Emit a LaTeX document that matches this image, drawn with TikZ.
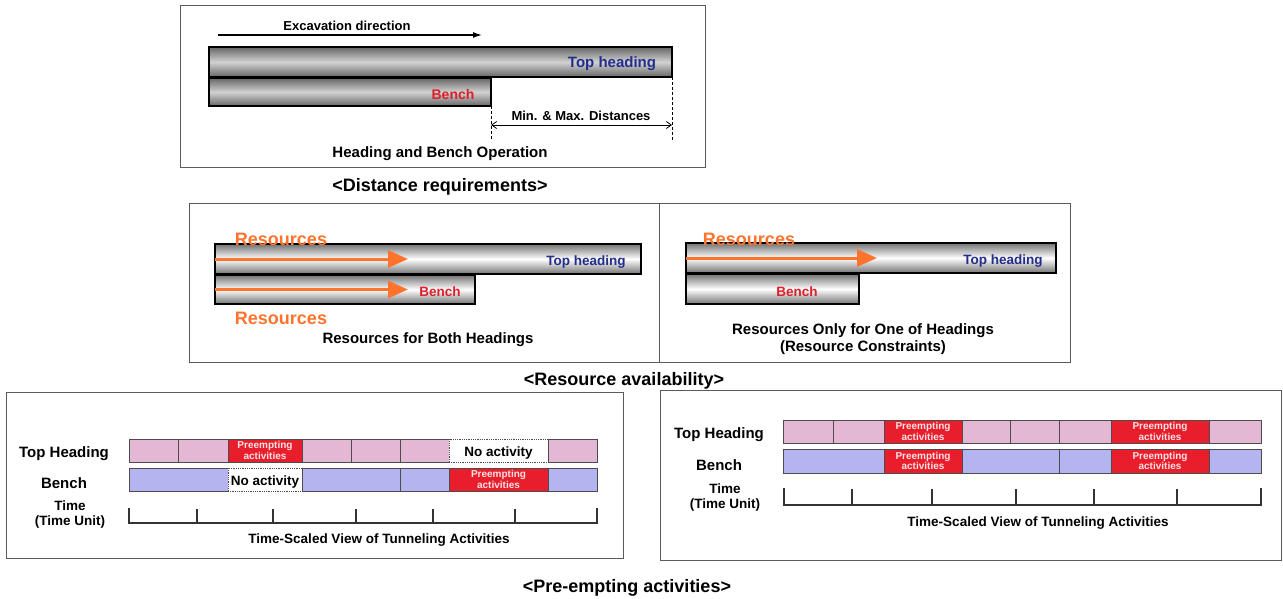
\documentclass[tikz,border=0pt]{standalone}
\usepackage{fontspec}
\setmainfont{Liberation Sans}
\usetikzlibrary{arrows.meta}
\definecolor{pinkc}{RGB}{228,184,212}
\definecolor{bluec}{RGB}{180,180,240}
\definecolor{redc}{RGB}{232,30,45}
\definecolor{redtxt}{RGB}{222,30,40}
\definecolor{bluetxt}{RGB}{35,45,140}
\definecolor{orangec}{RGB}{255,115,45}
\definecolor{pretxt}{RGB}{255,228,228}
\definecolor{framec}{RGB}{90,90,90}
\begin{document}
\begin{tikzpicture}[x=1pt,y=-1pt,
  f10/.style={font=\bfseries\fontsize{10pt}{10.8pt}\selectfont},
  f13/.style={font=\bfseries\fontsize{13pt}{15pt}\selectfont, yshift=-2pt},
  f135/.style={font=\bfseries\fontsize{13.5pt}{15pt}\selectfont, yshift=-2pt},
  f14/.style={font=\bfseries\fontsize{14pt}{16pt}\selectfont, yshift=-2pt},
  f15/.style={font=\bfseries\fontsize{15pt}{17pt}\selectfont, yshift=-2pt},
  f18/.style={font=\bfseries\fontsize{18pt}{20pt}\selectfont, yshift=-2pt},
  frame/.style={draw=framec, line width=1pt},
  tubeA/.style={draw=black, line width=1.3pt, anchor=north west, inner sep=0pt, outer sep=0pt,
     top color=black!60, bottom color=black!60, middle color=black!18},
  tubeB/.style={draw=black, line width=1.3pt, anchor=north west, inner sep=0pt, outer sep=0pt,
     top color=black!55, bottom color=black!55, middle color=white},
  resarrow/.style={draw=orangec, line width=3pt, -{Triangle[length=20pt,width=17pt]}},
  cell/.style={draw=black!70, line width=0.8pt, anchor=north west, inner sep=0pt, outer sep=0pt, text=pretxt, align=center, f10},
  noact/.style={draw=black!70, line width=0.8pt, densely dotted, fill=white, anchor=north west, inner sep=0pt, outer sep=0pt,
     font=\bfseries\fontsize{13.5pt}{15pt}\selectfont, text height=12pt, text depth=1pt},
  axis/.style={draw=black!80, line width=1.2pt}
]
\useasboundingbox (0,0) rectangle (1283,598);

% ---------- Box 1: distance requirements ----------
\node[frame, anchor=north west, minimum width=525pt, minimum height=162pt, inner sep=0pt] (box1) at (180,5) {};
\node[f13] (exc) at (347,24) {Excavation direction};
\coordinate (excA) at (218,35);
\coordinate (excB) at (482,35);
\draw[line width=1.3pt, -{Latex[length=9pt,width=6pt]}] (excA) -- (excB);
\node[tubeA, minimum width=463pt, minimum height=30pt] (th1) at (209,47) {};
\node[tubeA, minimum width=282pt, minimum height=28pt] (bn1) at (209,78) {};
\node[f15, text=bluetxt] (th1t) at (612,62) {Top heading};
\node[f14, text=redtxt] (bn1t) at (453,92) {Bench};
\coordinate (d1) at (491,140);
\coordinate (d2) at (672,140);
\draw[densely dashed, line width=0.8pt] (bn1.south east) -- (d1);
\draw[densely dashed, line width=0.8pt] (th1.south east) -- (d2);
\coordinate (m1) at (491,125);
\coordinate (m2) at (672,125);
\draw[line width=0.8pt, {Straight Barb[length=5pt,width=7pt]}-{Straight Barb[length=5pt,width=7pt]}] (m1) -- (m2);
\node[f13] (mm) at (581,114) {Min. \& Max. Distances};
\node[f15] (hbo) at (440,152) {Heading and Bench Operation};
\node[f18] (cap1) at (440,185) {<Distance requirements>};

% ---------- Box 2: resource availability ----------
\node[frame, anchor=north west, minimum width=881pt, minimum height=159pt, inner sep=0pt] (box2) at (189,203) {};
\coordinate (dv1) at (659,203);
\coordinate (dv2) at (659,362);
\draw[frame] (dv1) -- (dv2);
% left
\node[tubeB, minimum width=426pt, minimum height=30pt] (th2) at (215,244) {};
\node[tubeB, minimum width=260pt, minimum height=29pt] (bn2) at (215,275) {};
\coordinate (a2) at (408,259);
\coordinate (a3) at (408,289.5);
\draw[resarrow] (th2.west) -- (a2);
\draw[resarrow] (bn2.west) -- (a3);
\node[f18, text=orangec] (res1) at (281,237) {Resources};
\node[f18, text=orangec] (res2) at (281,316) {Resources};
\node[f135, text=bluetxt] (th2t) at (586,260) {Top heading};
\node[f135, text=redtxt] (bn2t) at (440,290) {Bench};
\node[f15] (rb) at (428,338) {Resources for Both Headings};
% right
\node[tubeB, minimum width=370pt, minimum height=30pt] (th3) at (686,243) {};
\node[tubeB, minimum width=173pt, minimum height=30pt] (bn3) at (686,274) {};
\coordinate (a4) at (877,258);
\draw[resarrow] (th3.west) -- (a4);
\node[f18, text=orangec] (res3) at (749,237) {Resources};
\node[f135, text=bluetxt] (th3t) at (1003,259) {Top heading};
\node[f135, text=redtxt] (bn3t) at (797,290) {Bench};
\node[f15, align=center] (ro) at (863,337) {Resources Only for One of Headings\\(Resource Constraints)};
\node[f18] (cap2) at (624,379) {<Resource availability>};

% ---------- Box 3 ----------
\node[frame, anchor=north west, minimum width=617pt, minimum height=166pt, inner sep=0pt] (box3) at (6,392) {};
\node[f15] (l3a) at (64,452) {Top Heading};
\node[f15] (l3b) at (64,481) {Bench};
\node[f135, align=center] (l3c) at (70,513) {Time\\(Time Unit)};
\foreach \xa/\xb/\col [count=\i] in {129/178/pinkc,178/228/pinkc,302/351/pinkc,351/400/pinkc,400/449/pinkc,548/597/pinkc}
  \node[cell, fill=\col, minimum width=\xb pt-\xa pt, minimum height=23pt] (p3t\i) at (\xa,439) {};
\node[cell, fill=redc, minimum width=74pt, minimum height=23pt] (p3r1) at (228,439) {Preempting\\activities};
\node[noact, minimum width=99pt, minimum height=23pt] (p3n1) at (449,439) {No activity};
\foreach \xa/\xb/\col [count=\i] in {129/228/bluec,302/400/bluec,400/449/bluec,548/597/bluec}
  \node[cell, fill=\col, minimum width=\xb pt-\xa pt, minimum height=23pt] (p3b\i) at (\xa,468) {};
\node[noact, minimum width=74pt, minimum height=23pt] (p3n2) at (228,468) {No activity};
\node[cell, fill=redc, minimum width=99pt, minimum height=23pt] (p3r2) at (449,468) {Preempting\\activities};
\draw[axis] (129,508) -- (129,523) -- (597,523) -- (597,508);
\foreach \t in {197,273,356,433,515} \draw[axis] (\t,509) -- (\t,523);
\node[f135] (ts3) at (379,538) {Time-Scaled View of Tunneling Activities};

% ---------- Box 4 ----------
\node[frame, anchor=north west, minimum width=621pt, minimum height=170pt, inner sep=0pt] (box4) at (660,390) {};
\node[f15] (l4a) at (719,433) {Top Heading};
\node[f15] (l4b) at (719,463) {Bench};
\node[f135, align=center] (l4c) at (725,496) {Time\\(Time Unit)};
\foreach \xa/\xb/\col [count=\i] in {783/833/pinkc,833/884/pinkc,962/1010/pinkc,1010/1059/pinkc,1059/1111/pinkc,1209/1261/pinkc}
  \node[cell, fill=\col, minimum width=\xb pt-\xa pt, minimum height=23pt] (p4t\i) at (\xa,420) {};
\node[cell, fill=redc, minimum width=78pt, minimum height=23pt] (p4r1) at (884,420) {Preempting\\activities};
\node[cell, fill=redc, minimum width=98pt, minimum height=23pt] (p4r2) at (1111,420) {Preempting\\activities};
\foreach \xa/\xb/\col [count=\i] in {783/884/bluec,962/1059/bluec,1059/1111/bluec,1209/1261/bluec}
  \node[cell, fill=\col, minimum width=\xb pt-\xa pt, minimum height=24pt] (p4b\i) at (\xa,449) {};
\node[cell, fill=redc, minimum width=78pt, minimum height=24pt] (p4r3) at (884,449) {Preempting\\activities};
\node[cell, fill=redc, minimum width=98pt, minimum height=24pt] (p4r4) at (1111,449) {Preempting\\activities};
\draw[axis] (784,488) -- (784,505) -- (1261,505) -- (1261,488);
\foreach \t in {852,932,1016,1094,1177} \draw[axis] (\t,489) -- (\t,505);
\node[f135] (ts4) at (1038,521) {Time-Scaled View of Tunneling Activities};

\node[f18] (cap3) at (627,586) {<Pre-empting activities>};
\end{tikzpicture}
\end{document}
